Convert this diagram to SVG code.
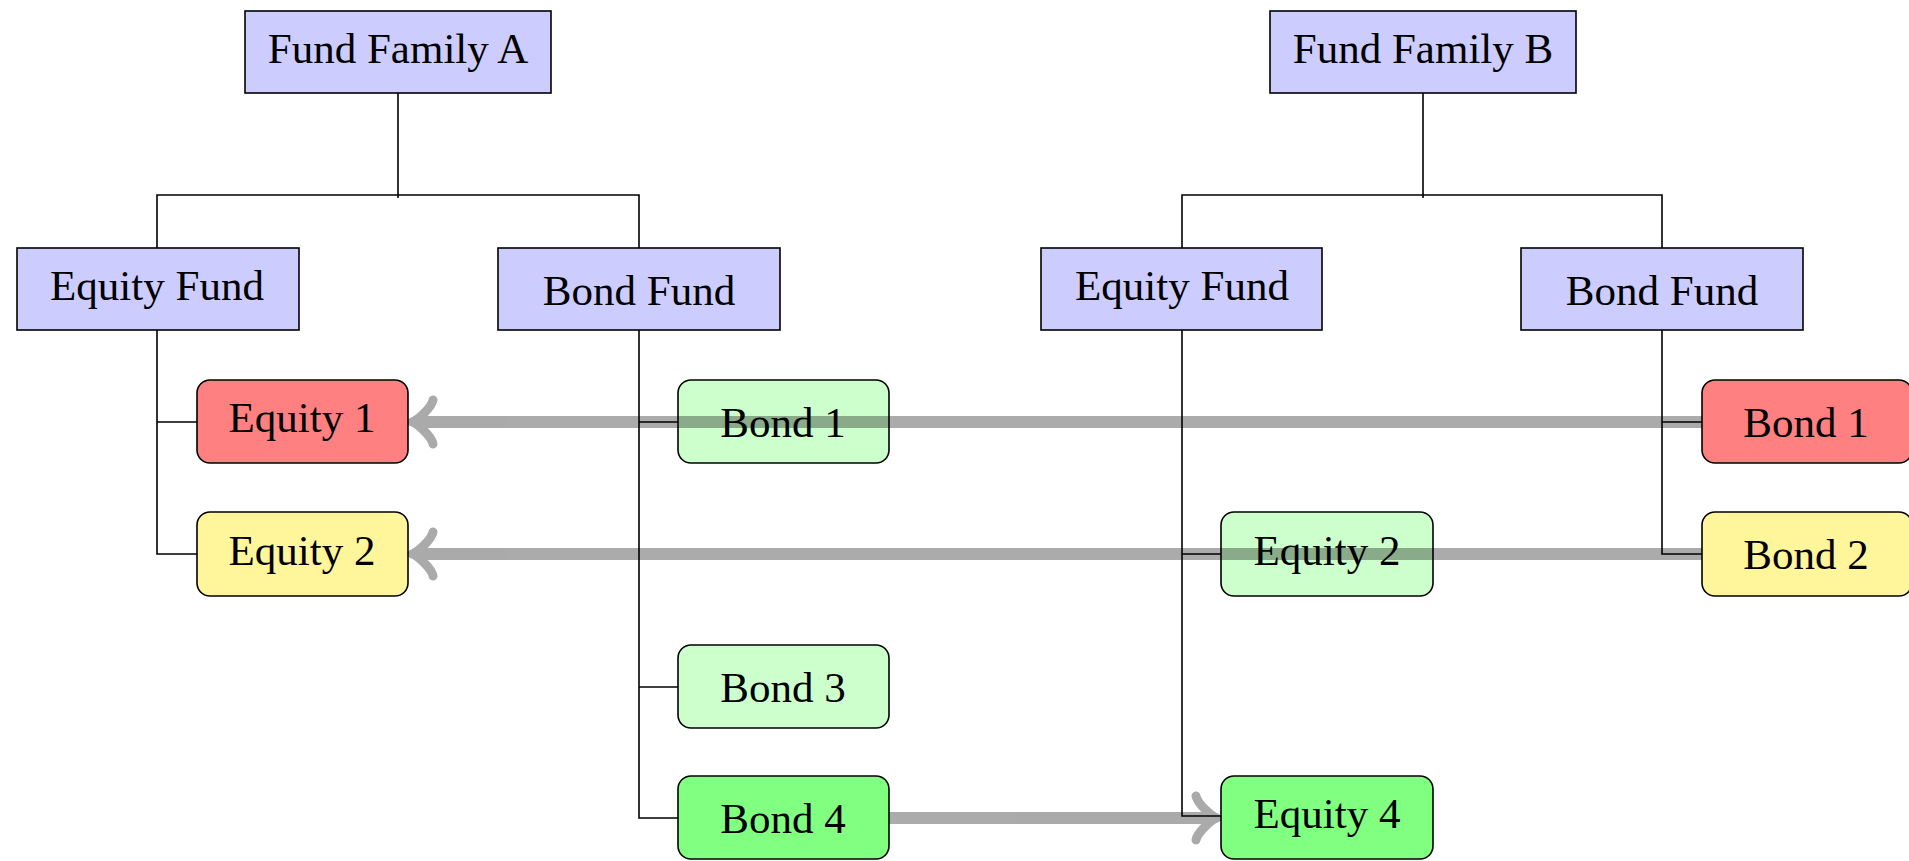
<svg xmlns="http://www.w3.org/2000/svg" width="1909" height="861" viewBox="0 0 1909 861">
<style>
.box{stroke:#000;stroke-width:1.6}
.fam{fill:#ccccff}
.red{fill:#ff8080}
.yel{fill:#fff59a}
.lg{fill:#ccffcc}
.dg{fill:#80ff80}
.t{font-family:"Liberation Serif","DejaVu Serif",serif;font-size:43px;fill:#000;text-anchor:middle}
.tree{fill:none;stroke:#000;stroke-width:1.6}
.arr{fill:none;stroke:#000;stroke-width:12;stroke-linecap:butt}
.head{fill:none;stroke:#000;stroke-width:9;stroke-linecap:round;stroke-linejoin:round}
</style>
<rect width="1909" height="861" fill="#fff"/>
<g id="tree-connectors">
<path class="tree" d="M398,93 V198 M157,248 V195 H639 V248"/>
<path class="tree" d="M1423,93 V198 M1182,248 V195 H1662 V248"/>
<path class="tree" d="M157,330 V554 H197 M157,422 H197"/>
<path class="tree" d="M639,330 V818 H678 M639,422 H678 M639,687 H678"/>
<path class="tree" d="M1182,330 V816 H1221 M1182,554 H1221"/>
<path class="tree" d="M1662,330 V554 H1702 M1662,422 H1702"/>
</g>
<g id="famA"><rect class="box fam" x="245" y="11" width="306" height="82"/><text class="t" x="398" y="63">Fund Family A</text></g>
<g id="famB"><rect class="box fam" x="1270" y="11" width="306" height="82"/><text class="t" x="1423" y="63">Fund Family B</text></g>
<g id="eqFundA"><rect class="box fam" x="17" y="248" width="282" height="82"/><text class="t" x="157" y="300">Equity Fund</text></g>
<g id="bondFundA"><rect class="box fam" x="498" y="248" width="282" height="82"/><text class="t" x="639" y="305">Bond Fund</text></g>
<g id="eqFundB"><rect class="box fam" x="1041" y="248" width="281" height="82"/><text class="t" x="1182" y="300">Equity Fund</text></g>
<g id="bondFundB"><rect class="box fam" x="1521" y="248" width="282" height="82"/><text class="t" x="1662" y="305">Bond Fund</text></g>
<g id="equity1A"><rect class="box red" x="197" y="380" width="211" height="83" rx="13"/><text class="t" x="302" y="432">Equity 1</text></g>
<g id="equity2A"><rect class="box yel" x="197" y="512" width="211" height="84" rx="13"/><text class="t" x="302" y="565">Equity 2</text></g>
<g id="bond1A"><rect class="box lg" x="678" y="380" width="211" height="83" rx="13"/><text class="t" x="783" y="437">Bond 1</text></g>
<g id="bond3A"><rect class="box lg" x="678" y="645" width="211" height="83" rx="13"/><text class="t" x="783" y="702">Bond 3</text></g>
<g id="bond4A"><rect class="box dg" x="678" y="776" width="211" height="83" rx="13"/><text class="t" x="783" y="833">Bond 4</text></g>
<g id="equity2B"><rect class="box lg" x="1221" y="512" width="212" height="84" rx="13"/><text class="t" x="1327" y="565">Equity 2</text></g>
<g id="equity4B"><rect class="box dg" x="1221" y="776" width="212" height="83" rx="13"/><text class="t" x="1327" y="828">Equity 4</text></g>
<g id="bond1B"><rect class="box red" x="1702" y="380" width="210" height="83" rx="13"/><text class="t" x="1806" y="437">Bond 1</text></g>
<g id="bond2B"><rect class="box yel" x="1702" y="512" width="210" height="84" rx="13"/><text class="t" x="1806" y="569">Bond 2</text></g>
<g id="arrows" opacity="0.33">
<path class="arr" d="M1702,422 H414"/>
<path class="head" d="M433,400 C431.5,408 417,420.6 412,422 C417,423.4 431.5,436 433,444"/>
<path class="arr" d="M1702,554 H414"/>
<path class="head" d="M433,532 C431.5,540 417,552.6 412,554 C417,555.4 431.5,568 433,576"/>
<path class="arr" d="M889,818 H1214"/>
<path class="head" d="M1196,796 C1197.5,804 1212,816.6 1217,818 C1212,819.4 1197.5,832 1196,840"/>
</g>
</svg>
